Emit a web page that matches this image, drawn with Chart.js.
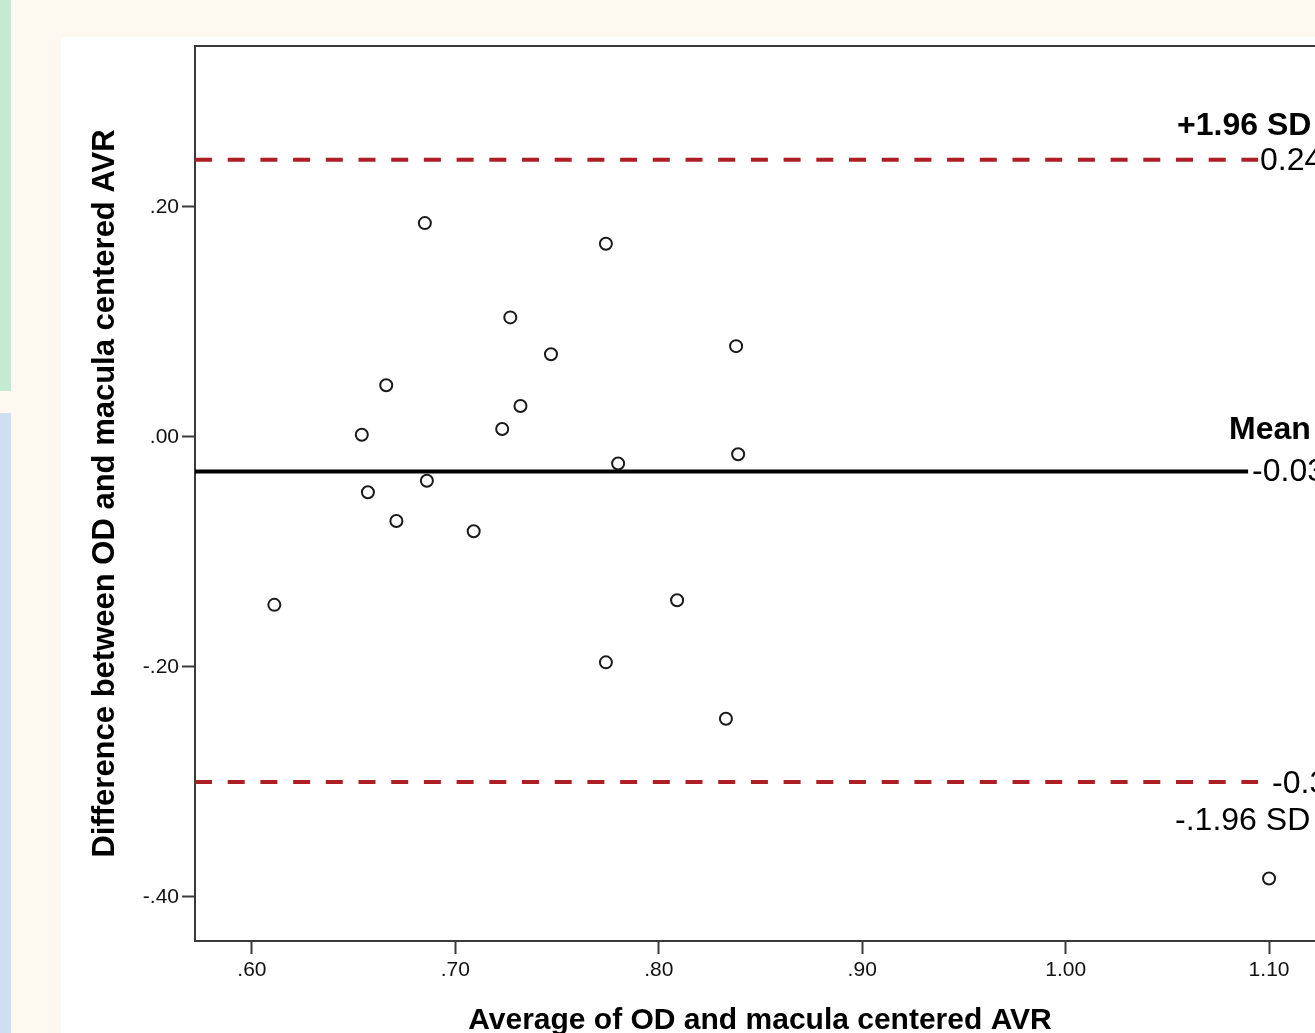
<!DOCTYPE html>
<html>
<head>
    <title>Bland-Altman plot AVR</title>
    <script src="https://cdn.jsdelivr.net/npm/chart.js"></script>
    <style>
        html, body { margin: 0; padding: 0; width: 1315px; height: 1033px; overflow: hidden; background: #fdf8f0; }
        .strip-green { position: absolute; left: 0; top: 0; width: 11px; height: 391px; background: #c4ead2; }
        .strip-blue { position: absolute; left: 0; top: 413px; width: 11px; height: 620px; background: #cfdff1; }
        .panel { position: absolute; left: 61px; top: 37px; width: 1300px; height: 1000px; background: #fff; }
    </style>
</head>
<body>
    <div class="strip-green"></div>
    <div class="strip-blue"></div>
    <div class="panel">
        <canvas id="baChart" width="1300" height="1000"></canvas>
    </div>

    <script>
        // Average of the two AVR measurements (x) and their difference (y)
        const avgValues  = [0.685, 0.774, 0.727, 0.747, 0.838, 0.666, 0.732, 0.654, 0.723, 0.780,
                            0.839, 0.657, 0.686, 0.671, 0.709, 0.611, 0.809, 0.774, 0.833, 1.100];
        const diffValues = [0.186, 0.168, 0.104, 0.072, 0.079, 0.045, 0.027, 0.002, 0.007, -0.023,
                            -0.015, -0.048, -0.038, -0.073, -0.082, -0.146, -0.142, -0.196, -0.245, -0.384];

        // limits of agreement
        const meanDiff = -0.030;
        const upperLoA = 0.241;
        const lowerLoA = -0.300;
        const meanLabel = '-0.03';
        const upperLabel = '0.24';
        const lowerLabel = '-0.30';

        const xTicks = [0.6, 0.7, 0.8, 0.9, 1.0, 1.1];
        const yTicks = [0.2, 0.0, -0.2, -0.4];

        const xMin = 0.572, xMax = 1.1275;
        const yMin = -0.4383, yMax = 0.34;
        const lineEnd = 1.0946;
        const meanEnd = 1.0897;

        const fontFamily = '"Liberation Sans", Arial, sans-serif';

        function spssFormat(v) {
            const s = v.toFixed(2);
            return Math.abs(v) < 1 ? s.replace(/^(-?)0\./, '$1.') : s;
        }

        // top frame line and the text next to the reference lines
        const annotations = {
            id: 'annotations',
            afterDatasetsDraw(chart) {
                const { ctx, chartArea, scales } = chart;
                const x = scales.x, y = scales.y;
                ctx.save();
                ctx.strokeStyle = '#3a3a3a';
                ctx.lineWidth = 2;
                ctx.beginPath();
                ctx.moveTo(chartArea.left, chartArea.top);
                ctx.lineTo(chartArea.right + 60, chartArea.top);
                ctx.stroke();

                ctx.fillStyle = '#000';
                ctx.textBaseline = 'middle';
                ctx.textAlign = 'left';
                const endPx = x.getPixelForValue(lineEnd);
                const meanPx = x.getPixelForValue(meanEnd);
                const yUp = y.getPixelForValue(upperLoA);
                const yMean = y.getPixelForValue(meanDiff);
                const yLow = y.getPixelForValue(lowerLoA);

                ctx.font = 'bold 32px ' + fontFamily;
                ctx.fillText('+1.96 SD', endPx - 81, yUp - 34);
                ctx.fillText('Mean', meanPx - 19, yMean - 41);
                ctx.font = '32px ' + fontFamily;
                ctx.fillText(upperLabel, endPx + 2, yUp + 1);
                ctx.fillText(meanLabel, meanPx + 4, yMean + 1);
                ctx.fillText(lowerLabel, endPx + 14, yLow + 2);
                ctx.fillText('-.1.96 SD', endPx - 83, yLow + 39);
                ctx.restore();
            }
        };

        const ctx = document.getElementById('baChart').getContext('2d');
        const chart = new Chart(ctx, {
            type: 'scatter',
            data: {
                datasets: [
                    {
                        label: 'Differences',
                        data: avgValues.map((v, i) => ({ x: v, y: diffValues[i] })),
                        pointStyle: 'circle',
                        pointRadius: 6,
                        pointBorderWidth: 2,
                        pointBorderColor: '#1a1a1a',
                        pointBackgroundColor: 'rgba(0,0,0,0)',
                        showLine: false,
                        order: 0
                    },
                    {
                        label: '+1.96 SD',
                        data: [{ x: xMin, y: upperLoA }, { x: lineEnd, y: upperLoA }],
                        type: 'line',
                        borderColor: '#ad1f24',
                        borderWidth: 4,
                        borderDash: [17, 15.7],
                        pointRadius: 0,
                        fill: false,
                        order: 1
                    },
                    {
                        label: 'Mean',
                        data: [{ x: xMin, y: meanDiff }, { x: meanEnd, y: meanDiff }],
                        type: 'line',
                        borderColor: '#000',
                        borderWidth: 4,
                        pointRadius: 0,
                        fill: false,
                        order: 1
                    },
                    {
                        label: '-1.96 SD',
                        data: [{ x: xMin, y: lowerLoA }, { x: lineEnd, y: lowerLoA }],
                        type: 'line',
                        borderColor: '#ad1f24',
                        borderWidth: 4,
                        borderDash: [17, 15.7],
                        pointRadius: 0,
                        fill: false,
                        order: 1
                    }
                ]
            },
            options: {
                responsive: false,
                animation: false,
                layout: { padding: { top: 9, right: 36, left: 0, bottom: 0 } },
                plugins: {
                    legend: { display: false },
                    tooltip: { enabled: false }
                },
                scales: {
                    x: {
                        type: 'linear',
                        min: xMin,
                        max: xMax,
                        afterBuildTicks: s => { s.ticks = xTicks.map(v => ({ value: v })); },
                        afterFit: s => { s.height = 96; s.paddingLeft = 0; s.paddingRight = 0; },
                        border: { display: true, color: '#3a3a3a', width: 2 },
                        grid: { drawOnChartArea: false, drawTicks: true, tickLength: 13, tickColor: '#3a3a3a', tickWidth: 2 },
                        ticks: {
                            color: '#111',
                            padding: 4,
                            maxRotation: 0,
                            font: { family: fontFamily, size: 21 },
                            callback: v => spssFormat(v)
                        },
                        title: {
                            display: true,
                            text: 'Average of OD and macula centered AVR',
                            color: '#000',
                            font: { family: fontFamily, size: 30, weight: 'bold' },
                            padding: { top: 0, bottom: -2 }
                        }
                    },
                    y: {
                        type: 'linear',
                        min: yMin,
                        max: yMax,
                        afterBuildTicks: s => { s.ticks = yTicks.map(v => ({ value: v })); },
                        afterFit: s => { s.width = 134; s.paddingTop = 0; s.paddingBottom = 0; },
                        border: { display: true, color: '#3a3a3a', width: 2 },
                        grid: { drawOnChartArea: false, drawTicks: true, tickLength: 13, tickColor: '#3a3a3a', tickWidth: 2 },
                        ticks: {
                            color: '#111',
                            padding: 3,
                            font: { family: fontFamily, size: 21 },
                            callback: v => spssFormat(v)
                        },
                        title: {
                            display: true,
                            text: 'Difference between OD and macula centered AVR',
                            color: '#000',
                            font: { family: fontFamily, size: 31, weight: 'bold' },
                            padding: { top: 26, bottom: 0 }
                        }
                    }
                }
            },
            plugins: [annotations]
        });
    </script>
</body>
</html>
